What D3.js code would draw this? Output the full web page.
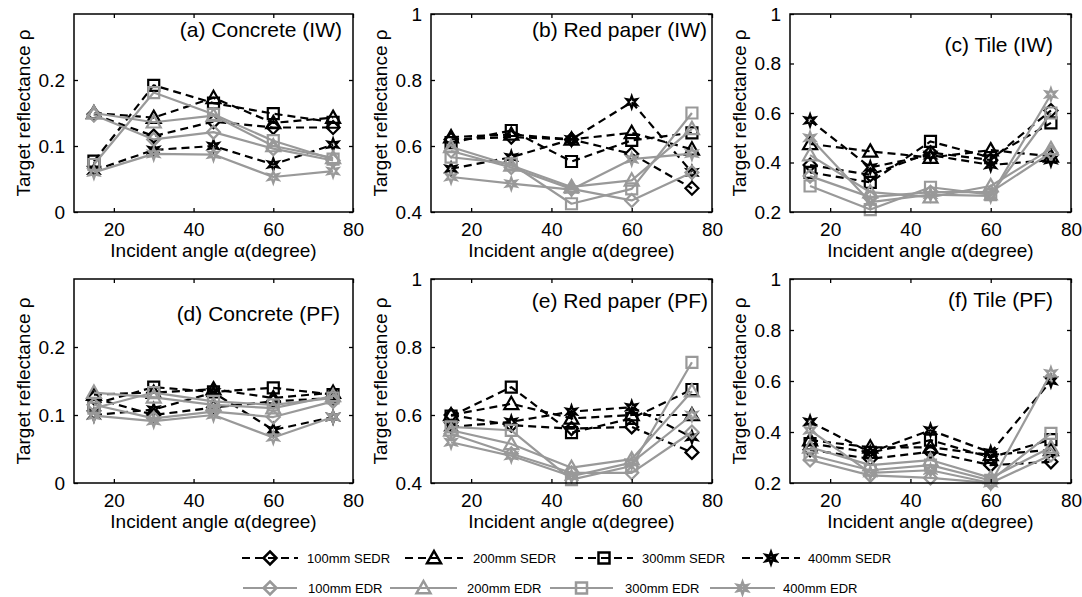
<!DOCTYPE html>
<html>
<head>
<meta charset="utf-8">
<script src="https://cdn.jsdelivr.net/npm/d3@7"></script>
<style>
  body { margin: 0; background: #fff; }
  svg { display: block; }
  text { font-family: "Liberation Sans", Arial, Helvetica, sans-serif; fill: #000; }
</style>
</head>
<body>
<svg id="chart" width="1082" height="597"></svg>
<script>
// Incident angles (degrees) at which reflectance was evaluated
const angles = [15, 30, 45, 60, 75];

// Series, in plotting / legend order
const seriesNames = [
  "100mm SEDR", "200mm SEDR", "300mm SEDR", "400mm SEDR",
  "100mm EDR", "200mm EDR", "300mm EDR", "400mm EDR"
];

// Axis ticks
const xTicks = [20, 40, 60, 80];
const xTickLabels = ["20", "40", "60", "80"];
const yTicksConcrete = [0, 0.1, 0.2];
const yTickLabelsConcrete = ["0", "0.1", "0.2"];
const yTicksPaper = [0.4, 0.6, 0.8, 1];
const yTickLabelsPaper = ["0.4", "0.6", "0.8", "1"];
const yTicksTile = [0.2, 0.4, 0.6, 0.8, 1];
const yTickLabelsTile = ["0.2", "0.4", "0.6", "0.8", "1"];

// Target reflectance, one row per series (same order as seriesNames)
const concreteIW = [
  [0.148, 0.115, 0.137, 0.128, 0.128],
  [0.150, 0.143, 0.173, 0.135, 0.143],
  [0.077, 0.192, 0.165, 0.149, 0.136],
  [0.063, 0.094, 0.100, 0.072, 0.102],
  [0.147, 0.110, 0.121, 0.096, 0.078],
  [0.150, 0.136, 0.146, 0.100, 0.082],
  [0.072, 0.181, 0.148, 0.108, 0.080],
  [0.060, 0.088, 0.087, 0.053, 0.062]
];
const redPaperIW = [
  [0.620, 0.627, 0.620, 0.576, 0.472],
  [0.627, 0.635, 0.620, 0.640, 0.590],
  [0.610, 0.647, 0.553, 0.617, 0.640],
  [0.531, 0.566, 0.620, 0.733, 0.520],
  [0.585, 0.535, 0.470, 0.435, 0.520],
  [0.597, 0.541, 0.476, 0.496, 0.652],
  [0.566, 0.546, 0.425, 0.470, 0.700],
  [0.506, 0.486, 0.468, 0.560, 0.577]
];
const tileIW = [
  [0.390, 0.350, 0.440, 0.410, 0.610],
  [0.475, 0.445, 0.420, 0.450, 0.425],
  [0.360, 0.320, 0.485, 0.420, 0.560],
  [0.570, 0.380, 0.430, 0.390, 0.410],
  [0.345, 0.260, 0.280, 0.280, 0.440],
  [0.430, 0.280, 0.260, 0.305, 0.455],
  [0.305, 0.210, 0.300, 0.270, 0.600],
  [0.500, 0.240, 0.270, 0.265, 0.675]
];
const concretePF = [
  [0.125, 0.100, 0.111, 0.120, 0.125],
  [0.130, 0.133, 0.138, 0.125, 0.133],
  [0.116, 0.141, 0.134, 0.140, 0.130],
  [0.100, 0.108, 0.133, 0.078, 0.097],
  [0.115, 0.095, 0.105, 0.097, 0.120],
  [0.133, 0.126, 0.115, 0.110, 0.128],
  [0.110, 0.133, 0.120, 0.115, 0.125],
  [0.099, 0.091, 0.100, 0.067, 0.097]
];
const redPaperPF = [
  [0.600, 0.570, 0.560, 0.565, 0.490],
  [0.600, 0.633, 0.590, 0.600, 0.600],
  [0.597, 0.682, 0.548, 0.590, 0.675],
  [0.565, 0.580, 0.610, 0.623, 0.535],
  [0.545, 0.486, 0.430, 0.430, 0.550],
  [0.555, 0.515, 0.445, 0.470, 0.670],
  [0.565, 0.555, 0.410, 0.450, 0.755],
  [0.520, 0.480, 0.420, 0.460, 0.600]
];
const tilePF = [
  [0.330, 0.295, 0.322, 0.270, 0.283],
  [0.368, 0.340, 0.340, 0.310, 0.330],
  [0.355, 0.320, 0.368, 0.300, 0.370],
  [0.440, 0.320, 0.407, 0.320, 0.600],
  [0.290, 0.230, 0.220, 0.200, 0.310],
  [0.340, 0.270, 0.290, 0.220, 0.340],
  [0.310, 0.250, 0.270, 0.210, 0.395],
  [0.407, 0.240, 0.250, 0.200, 0.630]
];

const panelTitles = [
  "(a) Concrete (IW)", "(b) Red paper (IW)", "(c) Tile (IW)",
  "(d) Concrete (PF)", "(e) Red paper (PF)", "(f) Tile (PF)"
];

// ---- layout -------------------------------------------------------------
const svg = d3.select("#chart");
const cols = [{ left: 74, width: 279 }, { left: 431, width: 281 }, { left: 790, width: 281 }];
const rows = [{ top: 14, height: 198 }, { top: 279, height: 204 }];
const BLACK = "#000", GRAY = "#999";

const panels = [
  { title: panelTitles[0], data: concreteIW, dom: [0, 0.3], ticks: yTicksConcrete, labels: yTickLabelsConcrete, c: 0, r: 0, tx: 342, ty: 37 },
  { title: panelTitles[1], data: redPaperIW, dom: [0.4, 1], ticks: yTicksPaper, labels: yTickLabelsPaper, c: 1, r: 0, tx: 707, ty: 37 },
  { title: panelTitles[2], data: tileIW, dom: [0.2, 1], ticks: yTicksTile, labels: yTickLabelsTile, c: 2, r: 0, tx: 1053, ty: 52 },
  { title: panelTitles[3], data: concretePF, dom: [0, 0.3], ticks: yTicksConcrete, labels: yTickLabelsConcrete, c: 0, r: 1, tx: 340, ty: 321 },
  { title: panelTitles[4], data: redPaperPF, dom: [0.4, 1], ticks: yTicksPaper, labels: yTickLabelsPaper, c: 1, r: 1, tx: 708, ty: 308 },
  { title: panelTitles[5], data: tilePF, dom: [0.2, 1], ticks: yTicksTile, labels: yTickLabelsTile, c: 2, r: 1, tx: 1053, ty: 307 }
];

// ---- marker shapes (MATLAB-style: diamond, up-triangle, square, hexagram) ----
function markerPath(kind) {
  if (kind === 0) { const r = 6.5; return `M0,${-r}L${r},0L0,${r}L${-r},0Z`; }
  if (kind === 1) { const r = 7; return `M0,${-r}L${r},${r * 0.75}L${-r},${r * 0.75}Z`; }
  if (kind === 2) { const r = 5.5; return `M${-r},${-r}H${r}V${r}H${-r}Z`; }
  const ro = 6, ri = 2.6, pts = [];
  for (let i = 0; i < 12; i++) {
    const a = -Math.PI / 2 + i * Math.PI / 6, rr = i % 2 ? ri : ro;
    pts.push([rr * Math.cos(a), rr * Math.sin(a)]);
  }
  return "M" + pts.map(p => p[0].toFixed(2) + "," + p[1].toFixed(2)).join("L") + "Z";
}
const styleOf = i => ({
  color: i < 4 ? BLACK : GRAY,
  dash: i < 4 ? "8,5" : null,
  kind: i % 4
});

// ---- panels -------------------------------------------------------------
panels.forEach(p => {
  const { left, width } = cols[p.c];
  const { top, height } = rows[p.r];
  const x = d3.scaleLinear().domain([10, 80]).range([left, left + width]);
  const y = d3.scaleLinear().domain(p.dom).range([top + height, top]);
  const g = svg.append("g");

  // series lines then markers
  const line = d3.line().x((d, k) => x(angles[k])).y(d => y(d));
  p.data.forEach((vals, i) => {
    const s = styleOf(i);
    g.append("path")
      .attr("d", line(vals))
      .attr("fill", "none")
      .attr("stroke", s.color)
      .attr("stroke-width", 2.2)
      .attr("stroke-dasharray", s.dash)
      .attr("stroke-linejoin", "round");
    g.selectAll(null).data(vals).join("path")
      .attr("transform", (d, k) => `translate(${x(angles[k])},${y(d)})`)
      .attr("d", markerPath(s.kind))
      .attr("fill", "none")
      .attr("stroke", s.color)
      .attr("stroke-width", 2.2);
  });

  // axes with inward ticks on all four sides
  const tl = 4;
  g.append("g").attr("transform", `translate(0,${top + height})`)
    .call(d3.axisBottom(x).tickValues(xTicks).tickSizeInner(-tl).tickSizeOuter(0)
      .tickPadding(7 + tl).tickFormat((d, k) => xTickLabels[k]));
  g.append("g").attr("transform", `translate(0,${top})`)
    .call(d3.axisTop(x).tickValues(xTicks).tickSizeInner(-tl).tickSizeOuter(0).tickFormat(""));
  g.append("g").attr("transform", `translate(${left},0)`)
    .call(d3.axisLeft(y).tickValues(p.ticks).tickSizeInner(-tl).tickSizeOuter(0)
      .tickPadding(5 + tl).tickFormat((d, k) => p.labels[k]));
  g.append("g").attr("transform", `translate(${left + width},0)`)
    .call(d3.axisRight(y).tickValues(p.ticks).tickSizeInner(-tl).tickSizeOuter(0).tickFormat(""));
  g.selectAll(".domain").remove();
  g.selectAll(".tick line").attr("stroke", BLACK).attr("stroke-width", 1.3);
  g.selectAll(".tick text").attr("font-size", 19).attr("font-family", "Liberation Sans, Arial, sans-serif").attr("fill", BLACK);

  g.append("rect")
    .attr("x", left).attr("y", top).attr("width", width).attr("height", height)
    .attr("fill", "none").attr("stroke", BLACK).attr("stroke-width", 1.5);

  // labels
  g.append("text")
    .attr("x", left + width / 2).attr("y", top + height + 45)
    .attr("text-anchor", "middle").attr("font-size", 19)
    .text("Incident angle α(degree)");
  g.append("text")
    .attr("transform", `translate(${left - 51},${top + height / 2}) rotate(-90)`)
    .attr("text-anchor", "middle").attr("dy", "0.35em").attr("font-size", 19)
    .text("Target reflectance ρ");
  g.append("text")
    .attr("x", p.tx).attr("y", p.ty)
    .attr("text-anchor", "end").attr("font-size", 21)
    .text(p.title);
});

// ---- legend (two rows: SEDR dashed black, EDR solid gray) ------------------
const legendRows = [
  { y: 558, items: [[242, 298, 307], [405, 463, 473], [575, 633, 642], [742, 800, 808]] },
  { y: 588, items: [[243, 297, 308], [390, 457, 467], [550, 613, 625], [710, 775, 783]] }
];
const lg = svg.append("g");
seriesNames.forEach((name, i) => {
  const row = legendRows[i < 4 ? 0 : 1];
  const [x1, x2, tx] = row.items[i % 4];
  const s = styleOf(i);
  lg.append("line")
    .attr("x1", x1).attr("x2", x2).attr("y1", row.y).attr("y2", row.y)
    .attr("stroke", s.color).attr("stroke-width", 2.2).attr("stroke-dasharray", s.dash);
  lg.append("path")
    .attr("transform", `translate(${(x1 + x2) / 2},${row.y})`)
    .attr("d", markerPath(s.kind))
    .attr("fill", "none").attr("stroke", s.color).attr("stroke-width", 2.5);
  lg.append("text")
    .attr("x", tx).attr("y", row.y).attr("dy", "0.36em")
    .attr("font-size", 13).text(name);
});
</script>
</body>
</html>
